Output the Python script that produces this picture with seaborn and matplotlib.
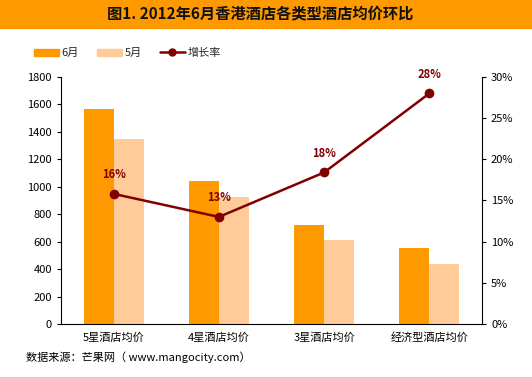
import pandas as pd
import matplotlib.pyplot as plt
import seaborn as sns
from matplotlib.ticker import PercentFormatter
from matplotlib.lines import Line2D
from matplotlib.patches import Patch

categories = ["5星酒店均价", "4星酒店均价", "3星酒店均价", "经济型酒店均价"]
june = [1567, 1042, 722, 554]
may = [1348, 928, 612, 437]
growth = [15.8, 13.0, 18.4, 28.0]
growth_labels = ["16%", "13%", "18%", "28%"]

sns.set_style("white")
plt.rcParams['font.family'] = ['Noto Sans CJK SC', 'DejaVu Sans']

df = pd.DataFrame({"类型": categories * 2,
                   "均价": june + may,
                   "月份": ["6月"] * 4 + ["5月"] * 4})

fig = plt.figure(figsize=(5.32, 3.77), dpi=100)
ax = fig.add_axes([0.1147, 0.1406, 0.7913, 0.6554])

sns.barplot(data=df, x="类型", y="均价", hue="月份", palette=["#FF9900", "#FFCC99"],
            width=0.57, saturation=1, gap=0, linewidth=0, edgecolor="none",
            ax=ax, legend=False)
ax.set_ylim(0, 1800)
ax.set_yticks(range(0, 1801, 200))
ax.set_xlabel("")
ax.set_ylabel("")
ax.tick_params(axis="both", labelsize=8, length=3, direction="out", colors="black")
ax.tick_params(axis="x", length=0, pad=6)
for s in ["top", "right"]:
    ax.spines[s].set_visible(False)
for s in ["left", "bottom"]:
    ax.spines[s].set_color("black")
    ax.spines[s].set_linewidth(0.8)

ax2 = ax.twinx()
line_df = pd.DataFrame({"类型": categories, "增长率": growth})
sns.lineplot(data=line_df, x="类型", y="增长率", color="#800000", linewidth=1.8,
             marker="o", markersize=7, markeredgewidth=0, ax=ax2, sort=False)
ax2.set_ylim(0, 30)
ax2.set_yticks(range(0, 31, 5))
ax2.yaxis.set_major_formatter(PercentFormatter(decimals=0))
ax2.set_ylabel("")
ax2.tick_params(axis="y", labelsize=8, length=3, colors="black")
for s in ["top", "left", "bottom"]:
    ax2.spines[s].set_visible(False)
ax2.spines["right"].set_color("black")
ax2.spines["right"].set_linewidth(0.8)
ax.set_xlim(-0.5, 3.5)

for i, (v, t) in enumerate(zip(growth, growth_labels)):
    ax2.annotate(t, (i, v), xytext=(0, 9), textcoords="offset points", ha="center",
                 va="bottom", fontsize=8, fontweight="bold", color="#800000")

# title band
fig.patches.append(plt.Rectangle((0, 1 - 28 / 377), 1, 28 / 377, transform=fig.transFigure,
                                 color="#FF9900", zorder=0))
fig.text(0.49, 1 - 14 / 377, "图1. 2012年6月香港酒店各类型酒店均价环比", ha="center", va="center",
         fontsize=11, fontweight="bold", color="#111111")

handles = [Patch(color="#FF9900", label="6月"), Patch(color="#FFCC99", label="5月"),
           Line2D([0], [0], color="#800000", marker="o", markersize=5, lw=1.8, label="增长率")]
fig.legend(handles=handles, loc="center left", bbox_to_anchor=(0.045, 1 - 53 / 377), ncol=3,
           frameon=False, fontsize=8, handlelength=2.3, handleheight=0.6, columnspacing=1.6,
           handletextpad=0.2)

fig.text(0.048, 1 - 357 / 377, "数据来源：芒果网（ www.mangocity.com）", ha="left", va="center",
         fontsize=8, color="black")

fig.savefig("out.png", dpi=100)
